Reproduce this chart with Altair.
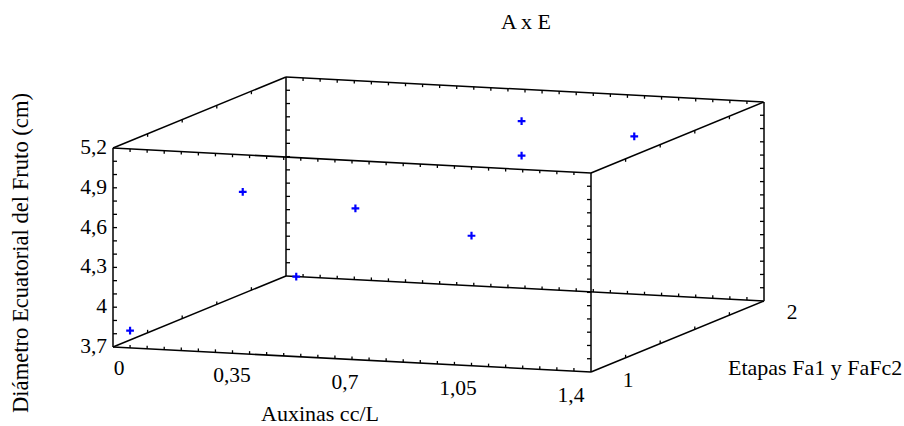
import altair as alt
import pandas as pd

# ---------------- data ----------------
auxinas = [0.05, 0.38, 0.03, 0.71, 1.05, 0.69, 0.69, 1.02]
etapa = [1, 1, 2, 1, 1, 2, 2, 2]
diametro = [3.83, 4.92, 3.70, 4.84, 4.68, 4.96, 4.70, 4.89]

aux_range = [0.0, 1.4]
etapa_range = [1.0, 2.0]
diam_range = [3.7, 5.2]

aux_ticks = [0, 0.35, 0.7, 1.05, 1.4]
aux_labels = ["0", "0,35", "0,7", "1,05", "1,4"]
diam_ticks = [3.7, 4.0, 4.3, 4.6, 4.9, 5.2]
diam_labels = ["3,7", "4", "4,3", "4,6", "4,9", "5,2"]
etapa_ticks = [1, 2]
etapa_labels = ["1", "2"]
aux_minor_step = 0.05
diam_minor_step = 0.1
etapa_minor_step = 0.2

title_text = "A x E"
aux_title = "Auxinas cc/L"
etapa_title = "Etapas Fa1 y FaFc2"
diam_title = "Diámetro Ecuatorial del Fruto (cm)"

# ---------------- layout (oblique projection) ----------------
W, H = 904, 426
O = (113, 347)          # screen point of (aux min, etapa min, diam min)
UA = (478, 25)          # screen vector spanning auxinas range
UE = (173, -71)         # screen vector spanning etapa range
UD = (0, -199)          # screen vector spanning diametro range
FONT = "Liberation Serif"


def nu(f, rng):
    return f"((datum.{f}-({rng[0]}))/({rng[1] - rng[0]}))"


def proj(a, e, d):
    u, v, w = nu(a, aux_range), nu(e, etapa_range), nu(d, diam_range)
    sx = f"{O[0]}+{UA[0]}*{u}+{UE[0]}*{v}+{UD[0]}*{w}"
    sy = f"{O[1]}+{UA[1]}*{u}+{UE[1]}*{v}+{UD[1]}*{w}"
    return sx, sy


xs = alt.Scale(domain=[0, W], nice=False, zero=False)
ys = alt.Scale(domain=[0, H], nice=False, zero=False, reverse=True)


def X(f):
    return alt.X(f"{f}:Q", scale=xs, axis=None)


def Y(f):
    return alt.Y(f"{f}:Q", scale=ys, axis=None)


def steps(lo, hi, step):
    out = []
    k = 1
    while lo + k * step < hi - 1e-9:
        out.append(round(lo + k * step, 6))
        k += 1
    return out


# ---------------- box edges ----------------
edges = []
for e_ in etapa_range:
    for d_ in diam_range:
        edges.append(dict(a1=aux_range[0], a2=aux_range[1], e1=e_, e2=e_, d1=d_, d2=d_))
for a_ in aux_range:
    for d_ in diam_range:
        edges.append(dict(a1=a_, a2=a_, e1=etapa_range[0], e2=etapa_range[1], d1=d_, d2=d_))
for a_ in aux_range:
    for e_ in etapa_range:
        edges.append(dict(a1=a_, a2=a_, e1=e_, e2=e_, d1=diam_range[0], d2=diam_range[1]))
edges_df = pd.DataFrame(edges)
sx1, sy1 = proj("a1", "e1", "d1")
sx2, sy2 = proj("a2", "e2", "d2")
edge_layer = alt.Chart(edges_df).transform_calculate(
    sx=sx1, sy=sy1, sx2=sx2, sy2=sy2
).mark_rule(color="black", strokeWidth=1.5).encode(
    x=X("sx"), y=Y("sy"), x2="sx2:Q", y2="sy2:Q"
)

# ---------------- tick marks ----------------
ticks = []
TL = 4
for d_ in steps(diam_range[0], diam_range[1], diam_minor_step):
    for a_, dx in ((aux_range[0], TL), (aux_range[1], -TL)):
        for e_ in etapa_range:
            ticks.append(dict(a=a_, e=e_, d=d_, tdx=dx, tdy=0))
for a_ in steps(aux_range[0], aux_range[1], aux_minor_step):
    for d_, dy in ((diam_range[0], -3), (diam_range[1], 3)):
        for e_ in etapa_range:
            ticks.append(dict(a=a_, e=e_, d=d_, tdx=0, tdy=dy))
for e_ in steps(etapa_range[0], etapa_range[1], etapa_minor_step):
    for d_, dy in ((diam_range[0], -3), (diam_range[1], 3)):
        for a_ in aux_range:
            ticks.append(dict(a=a_, e=e_, d=d_, tdx=0, tdy=dy))
ticks_df = pd.DataFrame(ticks)
tsx, tsy = proj("a", "e", "d")
tick_layer = alt.Chart(ticks_df).transform_calculate(
    sx=tsx, sy=tsy
).transform_calculate(
    sx2="datum.sx+datum.tdx", sy2="datum.sy+datum.tdy"
).mark_rule(color="black", strokeWidth=1.3).encode(
    x=X("sx"), y=Y("sy"), x2="sx2:Q", y2="sy2:Q"
)

# ---------------- points ----------------
pts_df = pd.DataFrame({"a": auxinas, "e": etapa, "d": diametro})
psx, psy = proj("a", "e", "d")
point_layer = alt.Chart(pts_df).transform_calculate(
    sx=psx, sy=psy
).mark_point(
    shape="M-1,0L1,0M0,-1L0,1", filled=False, color="#0000FF",
    strokeWidth=2.2, size=60, opacity=1
).encode(x=X("sx"), y=Y("sy"))

# ---------------- tick labels ----------------
diam_df = pd.DataFrame({"d": diam_ticks, "lab": diam_labels})
diam_df["a"] = aux_range[0]
diam_df["e"] = etapa_range[0]
dsx, dsy = proj("a", "e", "d")
diam_lab_layer = alt.Chart(diam_df).transform_calculate(
    sx=f"({dsx})-6", sy=dsy
).mark_text(align="right", baseline="middle", font=FONT, fontSize=21.5,
            color="black").encode(x=X("sx"), y=Y("sy"), text="lab:N")

aux_df = pd.DataFrame({"a": aux_ticks, "lab": aux_labels})
u_expr = nu("a", aux_range)
aux_lab_layer = alt.Chart(aux_df).transform_calculate(
    sx=f"119+452*{u_expr}", sy=f"369+27*{u_expr}"
).mark_text(align="center", baseline="middle", font=FONT, fontSize=21.5,
            color="black").encode(x=X("sx"), y=Y("sy"), text="lab:N")

et_df = pd.DataFrame({"e": etapa_ticks, "lab": etapa_labels})
v_expr = nu("e", etapa_range)
et_lab_layer = alt.Chart(et_df).transform_calculate(
    sx=f"628+164*{v_expr}", sy=f"381-68*{v_expr}"
).mark_text(align="center", baseline="middle", font=FONT, fontSize=21.5,
            color="black").encode(x=X("sx"), y=Y("sy"), text="lab:N")

# ---------------- titles ----------------
def txt(s, x, y, align="center", angle=0, size=22):
    kw = dict(align=align, baseline="middle", font=FONT, fontSize=size, color="black")
    if angle:
        kw["angle"] = angle
    return alt.Chart(pd.DataFrame({"t": [s]})).mark_text(**kw).encode(
        x=alt.value(x), y=alt.value(y), text="t:N")

title_layer = txt(title_text, 526, 22)
aux_title_layer = txt(aux_title, 320, 414)
et_title_layer = txt(etapa_title, 728, 368, align="left")
diam_title_layer = txt(diam_title, 21, 253, angle=270, size=22.6)

chart = alt.layer(
    edge_layer, tick_layer, point_layer,
    diam_lab_layer, aux_lab_layer, et_lab_layer,
    title_layer, aux_title_layer, et_title_layer, diam_title_layer,
).properties(
    width=W, height=H, autosize=alt.AutoSizeParams(type="none"), padding=0,
    background="white"
).configure_view(stroke=None)

chart.save("out.html", embed_options={"renderer": "svg", "actions": False})
